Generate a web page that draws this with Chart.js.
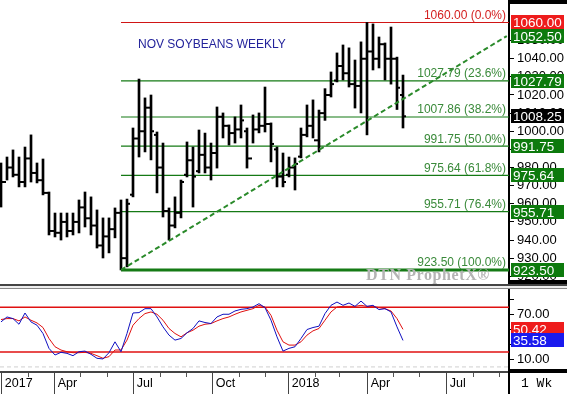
<!DOCTYPE html>
<html>
<head>
<meta charset="utf-8">
<script src="https://cdn.jsdelivr.net/npm/chart.js@4.4.0/dist/chart.umd.min.js"></script>
<style>
  html, body { margin: 0; padding: 0; background: #fff; }
  #wrap { position: relative; width: 567px; height: 394px; overflow: hidden; font-family: "Liberation Sans", Arial, sans-serif; }
  canvas { position: absolute; left: 0; }
  #main { top: 0; }
  #stoch { top: 289px; }
  .sep { position: absolute; left: 0; width: 567px; top: 284px; height: 5px; border-top: 2px solid #444; border-bottom: 1px solid #888; box-sizing: border-box; background: #eee; }
  .band { position: absolute; left: 509px; width: 58px; background: #000; }
  .vline { position: absolute; left: 508px; width: 2px; background: #000; }
  #title { position: absolute; left: 138px; top: 37px; color: #23239b; font-size: 12px; }
  #wm { position: absolute; z-index: 5; left: 366px; top: 266px; font: bold 16px/18px "Liberation Serif", serif; letter-spacing: 0.6px; color: #b4b4b4; }
  #wk { position: absolute; left: 521px; top: 376px; font: 13px "Liberation Mono", monospace; }
</style>
</head>
<body>
<div id="wrap">
  <canvas id="main" width="567" height="284"></canvas>
  <div class="sep"></div>
  <canvas id="stoch" width="567" height="105"></canvas>
  <div class="band" style="top:0;height:4px"></div>
  <div class="band" style="top:280px;height:4px"></div>
  <div class="band" style="top:369px;height:4px"></div>
  <div class="vline" style="top:372px;height:22px"></div>
  <div id="title">NOV SOYBEANS WEEKLY</div>
  <div id="wm">DTN ProphetX®</div>
  <div id="wk">1 Wk</div>
</div>
<script>
// weekly bars, Feb 2017 - May 2018 (index = week number)
const highs = [982.5, 985.8, 989.7, 985.8, 991.3, 998.0, 982.5, 984.7, 966.5, 954.9,
  954.9, 954.9, 954.9, 962.1, 966.5, 963.8, 956.6, 952.2, 952.2, 957.7,
  962.1, 962.6, 1001.8, 1028.8, 1018.4, 1020.0, 999.6, 993.5, 957.7, 963.8,
  973.1, 994.1, 991.3, 1000.7, 999.0, 993.5, 1013.4, 1010.1, 1003.5, 1007.9,
  1014.5, 1001.8, 1009.0, 1010.1, 1024.4, 1004.6, 991.3, 988.0, 985.8, 985.3,
  1001.8, 1014.5, 1017.3, 1011.7, 1023.5, 1032.7, 1043.2, 1047.6, 1046.0, 1039.3,
  1049.3, 1060.0, 1059.2, 1052.0, 1048.7, 1057.5, 1040.9, 1031.0];
const lows = [958.2, 973.1, 974.8, 969.3, 969.3, 972.0, 971.5, 964.9, 942.8, 941.7,
  940.0, 941.7, 942.8, 943.9, 947.2, 942.8, 935.6, 930.1, 932.9, 941.2,
  923.5, 925.2, 963.8, 985.8, 988.6, 984.2, 966.0, 952.7, 940.0, 946.7,
  952.2, 974.8, 958.2, 977.0, 977.0, 973.1, 979.7, 996.3, 992.4, 993.5,
  996.3, 979.7, 993.5, 999.1, 999.6, 983.1, 969.3, 969.3, 974.8, 967.6,
  985.3, 996.9, 996.3, 988.6, 1006.0, 1018.9, 1027.2, 1028.3, 1024.4, 1012.8,
  1010.1, 998.0, 1033.8, 1034.9, 1028.3, 1026.0, 1012.0, 1001.8];
const opens = [968, 972, 980, 976, 972, 985, 977, 973, 966, 945,
  944, 950, 945, 950, 958, 952, 948, 937, 942, 946,
  955, 930, 965, 996, 1000, 1013, 998, 980, 956, 948,
  955, 976, 984, 978, 987, 980, 988, 1008, 1003, 999,
  1001, 1000, 985, 1001, 1003, 1004, 990, 975, 976, 980,
  986, 998, 1003, 995, 1010, 1020, 1028, 1036, 1032, 1026,
  1025, 1040, 1044, 1040, 1048, 1040, 1040, 1020];
const closes = [972, 980, 976, 972, 985, 977, 973, 966, 945, 944,
  950, 945, 950, 958, 952, 948, 937, 942, 946, 955,
  930, 960, 996, 1000, 1013, 1000, 980, 956, 948, 955,
  972, 984, 975, 987, 980, 988, 1008, 1003, 999, 1001,
  1006, 985, 1001, 1003, 1004, 993, 975, 972, 980, 982,
  998, 1003, 995, 1010, 1020, 1026, 1036, 1032, 1026, 1025,
  1040, 1044, 1040, 1048, 1040, 1040, 1024, 1008.25];

// slow stochastics
const stochK = [60.4, 67.1, 64.9, 57.3, 72.4, 60.4, 56.0, 44.9, 24.9, 16.0,
  19.6, 18.2, 15.1, 20.4, 21.3, 16.9, 11.6, 10.7, 19.1, 33.7,
  20.4, 44.9, 72.4, 72.9, 78.2, 78.2, 67.1, 53.8, 42.7, 36.0,
  38.2, 45.8, 51.6, 61.8, 59.6, 58.2, 67.1, 70.7, 70.7, 75.1,
  77.3, 78.2, 80.4, 84.9, 79.6, 62.7, 40.4, 21.3, 24.9, 27.1,
  38.2, 50.2, 52.9, 54.7, 71.6, 82.7, 87.1, 82.7, 85.8, 81.3,
  88.4, 81.3, 82.7, 76.9, 78.2, 73.8, 53.8, 35.58];
const stochD = [63.6, 64.9, 64.9, 61.8, 67.1, 62.7, 59.1, 52.9, 38.2, 27.1,
  22.7, 20.4, 19.1, 19.1, 19.6, 18.2, 15.1, 11.6, 13.8, 22.7,
  22.7, 36.0, 56.0, 64.9, 71.6, 73.8, 70.7, 62.7, 51.6, 44.9,
  40.4, 45.8, 49.3, 54.7, 57.3, 58.2, 61.8, 64.9, 67.1, 70.7,
  73.8, 76.0, 78.2, 82.7, 80.4, 69.3, 49.3, 33.7, 29.3, 29.3,
  33.7, 42.7, 48.4, 51.6, 62.7, 73.8, 80.4, 81.3, 81.3, 81.3,
  82.7, 81.3, 81.3, 79.6, 78.2, 75.1, 64.9, 50.42];
const stochBands = [80, 20];

// fibonacci retracement from the June 2017 low (week 20) to the 1060 high
const fibStart = 20;
const fibLevels = [1060, 1027.79, 1007.86, 991.75, 975.64, 955.71, 923.5];
const fibPcts = ['0.0%', '23.6%', '38.2%', '50.0%', '61.8%', '76.4%', '100.0%'];
const trendLine = [{ x: 20, y: 923.5 }, { x: 84.3, y: 1052.5 }];
const tagValues = [1060, 1052.5, 1027.79, 1008.25, 991.75, 975.64, 955.71, 923.5];

// time axis (week positions)
const quarterPos = [0.05, 8.88, 22.05, 35.22, 47.88, 61.05, 74.22];
const quarterLabels = ['2017', 'Apr', 'Jul', 'Oct', '2018', 'Apr', 'Jul'];
const monthPos = [4.45, 13.2, 17.6, 26.5, 30.9, 39.6, 44.0, 52.3, 56.3, 65.3, 69.7, 78.6, 83.0];
const priceTicks = [920, 930, 940, 950, 960, 970, 980, 990, 1000, 1010, 1020, 1030, 1040, 1050];
const stochTicks = [10, 30, 50, 70, 90];

const XMIN = -1 / 6, XMAX = 84.667;
const GREEN = '#157a15', RED = '#d01515';
const tagColors = ['#ee1c1c', '#0d7a0d', '#0d7a0d', '#000000', '#0d7a0d', '#0d7a0d', '#0d7a0d', '#0d7a0d'];

function fixY(s) { s.width = 58; s.paddingTop = 0; s.paddingBottom = 0; }

const mainLabels = {
  id: 'mainLabels',
  afterDraw(chart) {
    const { ctx, scales: { y }, chartArea } = chart;
    ctx.save();
    ctx.font = '12px "Liberation Sans"';
    ctx.textAlign = 'right';
    ctx.textBaseline = 'bottom';
    fibLevels.forEach((lvl, i) => {
      ctx.fillStyle = i === 0 ? '#d42020' : '#3a8a3a';
      ctx.fillText(lvl.toFixed(2) + ' (' + fibPcts[i] + ')', chartArea.right - 3, y.getPixelForValue(lvl) - 1);
    });
    ctx.font = '13.5px "Liberation Sans"';
    ctx.textAlign = 'left';
    ctx.textBaseline = 'middle';
    tagValues.forEach((v, i) => {
      const py = Math.round(y.getPixelForValue(v));
      ctx.fillStyle = tagColors[i];
      ctx.fillRect(chartArea.right + 2, py - 7, 53, 14);
      ctx.fillStyle = '#fff';
      ctx.fillText(v.toFixed(2), chartArea.right + 4, py + 1);
    });
    ctx.restore();
  }
};

new Chart(document.getElementById('main'), {
  type: 'line',
  data: {
    datasets: [
      ...fibLevels.map((lvl, i) => ({
        data: [{ x: fibStart, y: lvl }, { x: XMAX, y: lvl }],
        borderColor: i === 0 ? RED : GREEN,
        borderWidth: i === fibLevels.length - 1 ? 3 : 1.2,
        pointRadius: 0,
        pointHoverRadius: 0,
        order: 5
      })),
      {
        data: trendLine,
        borderColor: '#2a8a2a',
        borderWidth: 2,
        borderDash: [5, 3],
        pointRadius: 0,
        pointHoverRadius: 0,
        order: 0
      },
      {
        type: 'bar',
        data: highs.map((h, i) => ({ x: i, y: [lows[i], h] })),
        backgroundColor: '#000',
        barThickness: 2,
        order: 2
      },
      {
        type: 'scatter',
        data: opens.map((o, i) => ({ x: i - 1 / 3, y: o })),
        pointStyle: 'line',
        radius: 1,
        hoverRadius: 1,
        borderWidth: 2,
        borderColor: '#000',
        order: 1
      },
      {
        type: 'scatter',
        data: closes.map((c, i) => ({ x: i + 1 / 3, y: c })),
        pointStyle: 'line',
        radius: 1,
        hoverRadius: 1,
        borderWidth: 2,
        borderColor: '#000',
        order: 1
      }
    ]
  },
  options: {
    responsive: false,
    animation: false,
    events: [],
    layout: { padding: 0, autoPadding: false },
    plugins: { legend: { display: false }, tooltip: { enabled: false } },
    scales: {
      x: { type: 'linear', display: false, min: XMIN, max: XMAX, offset: false },
      y: {
        position: 'right',
        min: 915.75,
        max: 1072.4,
        afterBuildTicks: s => { s.ticks = priceTicks.map(v => ({ value: v })); },
        afterFit: fixY,
        grid: { drawOnChartArea: false, tickLength: 5, tickColor: '#000' },
        border: { color: '#000', width: 2 },
        ticks: {
          padding: 3,
          color: '#000',
          font: { family: 'Liberation Sans', size: 13 },
          callback: v => v.toFixed(2)
        }
      }
    }
  },
  plugins: [mainLabels]
});

const stochLabels = {
  id: 'stochLabels',
  afterDraw(chart) {
    const { ctx, scales: { x, y }, chartArea } = chart;
    ctx.save();
    ctx.strokeStyle = '#555';
    ctx.lineWidth = 1;
    monthPos.forEach(m => {
      const px = Math.round(x.getPixelForValue(m)) + 0.5;
      ctx.beginPath();
      ctx.moveTo(px, chartArea.bottom + 1);
      ctx.lineTo(px, chartArea.bottom + 5);
      ctx.stroke();
    });
    ctx.font = '13.5px "Liberation Sans"';
    ctx.textAlign = 'left';
    ctx.textBaseline = 'middle';
    [[stochD, '#ee1c1c'], [stochK, '#1a1aee']].forEach(([arr, col]) => {
      const v = arr[arr.length - 1];
      const py = Math.round(y.getPixelForValue(v));
      ctx.fillStyle = col;
      ctx.fillRect(chartArea.right + 2, py - 7, 53, 14);
      ctx.fillStyle = '#fff';
      ctx.fillText(v.toFixed(2), chartArea.right + 4, py + 1);
    });
    ctx.restore();
  }
};

new Chart(document.getElementById('stoch'), {
  type: 'line',
  data: {
    datasets: [
      ...stochBands.map(b => ({
        data: [{ x: XMIN, y: b }, { x: XMAX, y: b }],
        borderColor: '#e01010',
        borderWidth: 1.5,
        pointRadius: 0,
        pointHoverRadius: 0,
        order: 5
      })),
      {
        data: [{ x: XMIN, y: 0 }, { x: XMAX, y: 0 }],
        borderColor: '#cfcfcf',
        borderWidth: 1,
        borderDash: [4, 3],
        pointRadius: 0,
        pointHoverRadius: 0,
        order: 6
      },
      {
        data: stochD.map((v, i) => ({ x: i, y: v })),
        borderColor: '#e01010',
        borderWidth: 1,
        pointRadius: 0,
        pointHoverRadius: 0,
        order: 2
      },
      {
        data: stochK.map((v, i) => ({ x: i, y: v })),
        borderColor: '#1010c0',
        borderWidth: 1,
        pointRadius: 0,
        pointHoverRadius: 0,
        order: 1
      }
    ]
  },
  options: {
    responsive: false,
    animation: false,
    events: [],
    layout: { padding: 0, autoPadding: false },
    plugins: { legend: { display: false }, tooltip: { enabled: false } },
    scales: {
      x: {
        type: 'linear',
        min: XMIN,
        max: XMAX,
        offset: false,
        afterBuildTicks: s => { s.ticks = quarterPos.map(v => ({ value: v })); },
        afterFit: s => { s.height = 22; s.paddingLeft = 0; s.paddingRight = 0; },
        grid: { drawOnChartArea: false, tickLength: 22, tickColor: '#444' },
        border: { color: '#444', width: 2 },
        ticks: {
          align: 'start',
          padding: -18,
          maxRotation: 0,
          autoSkip: false,
          color: '#000',
          font: { family: 'Liberation Sans', size: 12.5 },
          callback: (v, i) => ' ' + quarterLabels[i]
        }
      },
      y: {
        position: 'right',
        min: -6.8,
        max: 104.6,
        afterBuildTicks: s => { s.ticks = stochTicks.map(v => ({ value: v })); },
        afterFit: fixY,
        grid: { drawOnChartArea: false, tickLength: 5, tickColor: '#000' },
        border: { color: '#000', width: 2 },
        ticks: {
          padding: 3,
          color: '#000',
          font: { family: 'Liberation Sans', size: 13 },
          callback: v => (v === 10 || v === 70) ? v.toFixed(2) : ''
        }
      }
    }
  },
  plugins: [stochLabels]
});
</script>
</body>
</html>
